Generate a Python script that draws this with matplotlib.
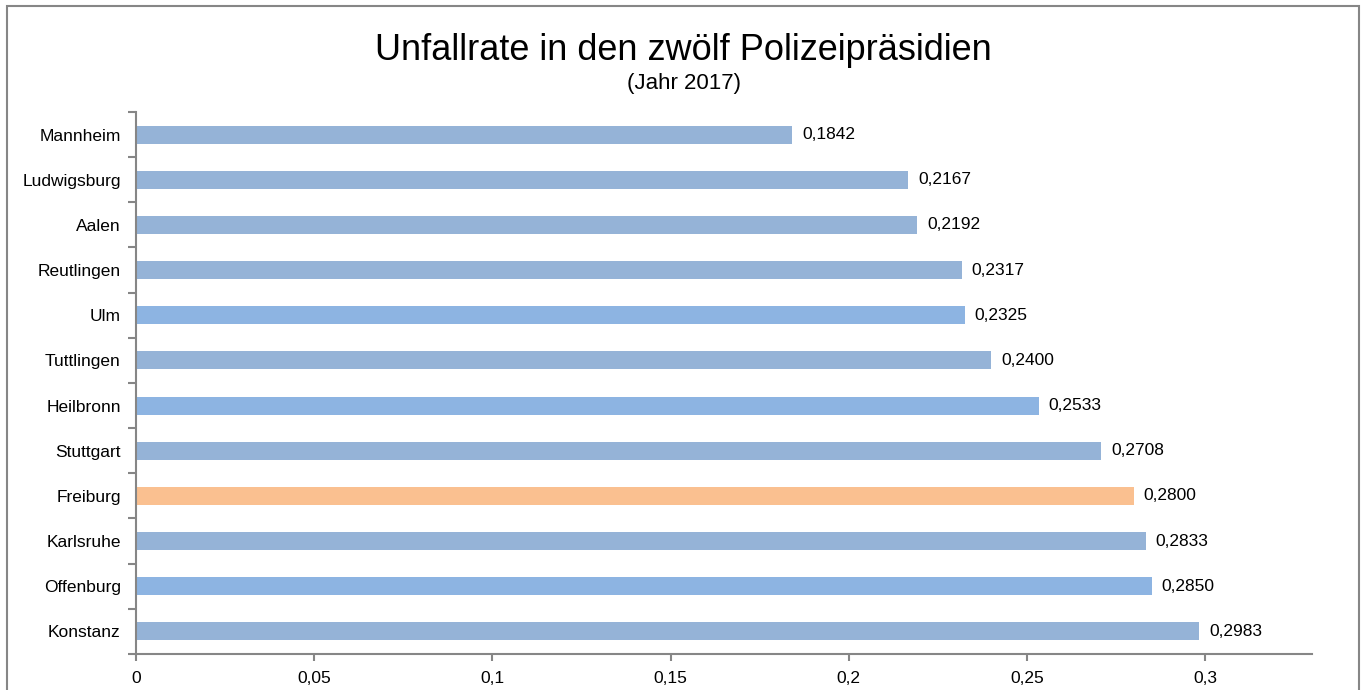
import matplotlib
matplotlib.use('Agg')
import matplotlib.pyplot as plt
from matplotlib.patches import Rectangle
from matplotlib.ticker import FixedLocator, FuncFormatter

plt.rcParams['font.family'] = ['Liberation Sans', 'DejaVu Sans']

# data, top to bottom as in the chart
cities = ["Mannheim", "Ludwigsburg", "Aalen", "Reutlingen", "Ulm", "Tuttlingen",
          "Heilbronn", "Stuttgart", "Freiburg", "Karlsruhe", "Offenburg", "Konstanz"]
rates = [0.1842, 0.2167, 0.2192, 0.2317, 0.2325, 0.2400,
         0.2533, 0.2708, 0.2800, 0.2833, 0.2850, 0.2983]
colors = ["#95B3D7", "#95B3D7", "#95B3D7", "#95B3D7", "#8DB4E2", "#95B3D7",
          "#8DB4E2", "#95B3D7", "#FAC090", "#95B3D7", "#8DB4E2", "#95B3D7"]
xticks = [0, 0.05, 0.1, 0.15, 0.2, 0.25, 0.3]

AXIS_GREY = "#868686"

fig = plt.figure(figsize=(13.62, 6.90), dpi=100)
ax = fig.add_axes([0.0999, 0.0522, 0.8634, 0.7855])

pos = list(range(len(cities) - 1, -1, -1))
ax.barh(pos, rates, height=0.4, color=colors)

# value labels with German decimal comma
for y, v in zip(pos, rates):
    ax.text(v + 0.0028, y, ("%.4f" % v).replace(".", ","), va="center", ha="left",
            fontsize=12.5, color="#000000")

ax.set_xlim(0, 0.33)
ax.set_ylim(-0.5, len(cities) - 0.5)
ax.set_yticks(pos)
ax.set_yticklabels(cities, fontsize=12.5)
# tick marks sit between the categories
ax.yaxis.set_minor_locator(FixedLocator([p + 0.5 for p in range(-1, len(cities))]))
ax.tick_params(axis="y", which="major", length=0, pad=11)
ax.tick_params(axis="y", which="minor", length=6, width=1.5, color=AXIS_GREY)

ax.set_xticks(xticks)
ax.xaxis.set_major_formatter(FuncFormatter(lambda v, p: ("%g" % v).replace(".", ",")))
ax.tick_params(axis="x", length=5, width=1.5, color=AXIS_GREY, labelsize=12.5, pad=7)

for s in ["top", "right"]:
    ax.spines[s].set_visible(False)
for s in ["left", "bottom"]:
    ax.spines[s].set_color(AXIS_GREY)
    ax.spines[s].set_linewidth(1.5)

fig.text(0.502, 0.927, "Unfallrate in den zwölf Polizeipräsidien", ha="center", va="center",
         fontsize=26)
fig.text(0.502, 0.879, "(Jahr 2017)", ha="center", va="center", fontsize=16)

# chart frame
fig.patches.append(Rectangle((7 / 1362, -0.05), 1352 / 1362, 1.05 - 6 / 690,
                             transform=fig.transFigure, fill=False,
                             edgecolor=AXIS_GREY, linewidth=1.5))

fig.savefig("out.png", dpi=100)
